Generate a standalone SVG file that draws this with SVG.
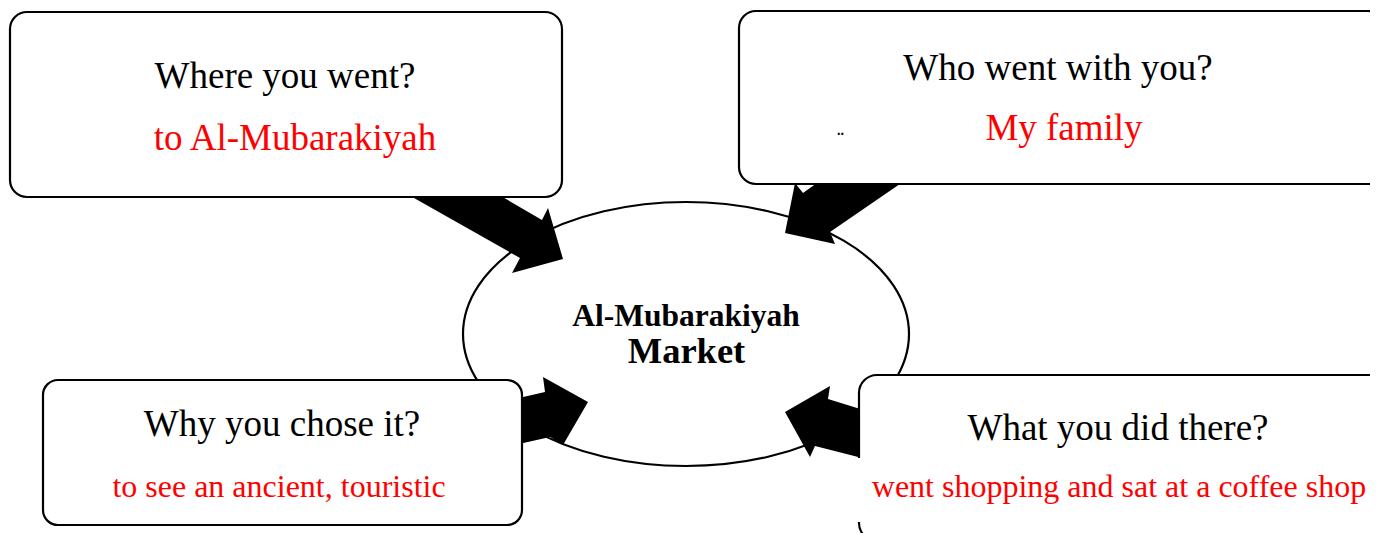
<svg xmlns="http://www.w3.org/2000/svg" width="1383" height="533" viewBox="0 0 1383 533">
<defs>
<style>
.box{fill:#fff;stroke:#000;stroke-width:2.2}
.q{font-family:"Liberation Serif","Times New Roman",serif;font-size:37px;fill:#000;text-anchor:middle}
.a{font-family:"Liberation Serif","Times New Roman",serif;fill:#ff0000;text-anchor:middle}
.c{font-family:"Liberation Serif","Times New Roman",serif;font-weight:bold;fill:#000;text-anchor:middle}
.arrow{fill:#000;stroke:none}
</style>
<clipPath id="page"><rect x="0" y="0" width="1370" height="533"/></clipPath>
</defs>
<rect width="1383" height="533" fill="#fff"/>
<g id="center">
<ellipse cx="686" cy="334" rx="223" ry="132" fill="#fff" stroke="#000" stroke-width="2.2"/>
<text class="c" x="686" y="326" font-size="31.5">Al-Mubarakiyah</text>
<text class="c" x="686.5" y="363" font-size="36.5">Market</text>
</g>
<g id="connectors">
<polygon class="arrow" points="391,185 482,185 542,220 548,208 563,259 512,273 520,258"/>
<polygon class="arrow" points="828,175 913,175 830,232 835,244 785,233 795,183 803,193"/>
<polygon class="arrow" points="510,400 545,392 543,377 588,402 563,445 550,437 510,446"/>
<polygon class="arrow" points="870,412 828,399 830,386 785,412 810,457 815,446 870,460"/>
</g>
<g id="where">
<rect class="box" x="10" y="12" width="552" height="185" rx="17"/>
<text class="q" x="285" y="88">Where you went?</text>
<text class="a" x="295" y="150" font-size="37">to Al-Mubarakiyah</text>
</g>
<g id="who" clip-path="url(#page)">
<rect class="box" x="739" y="11" width="646" height="173" rx="17"/>
<text class="q" x="1058" y="80">Who went with you?</text>
<text x="837" y="135" style="font-family:'Liberation Serif',serif;font-size:14px;font-weight:bold;fill:#000">..</text>
<text class="a" x="1064" y="140" font-size="37">My family</text>
</g>
<g id="why">
<rect class="box" x="43" y="380" width="479" height="145" rx="15"/>
<text class="q" x="282" y="436">Why you chose it?</text>
<text class="a" x="279" y="497" font-size="32">to see an ancient, touristic</text>
</g>
<g id="what" clip-path="url(#page)">
<rect class="box" x="859" y="375" width="530" height="166" rx="18"/>
<rect x="852" y="458" width="520" height="64" fill="#fff"/>
<text class="q" x="1118" y="440">What you did there?</text>
<text class="a" x="1119" y="497" font-size="32">went shopping and sat at a coffee shop</text>
</g>
</svg>
